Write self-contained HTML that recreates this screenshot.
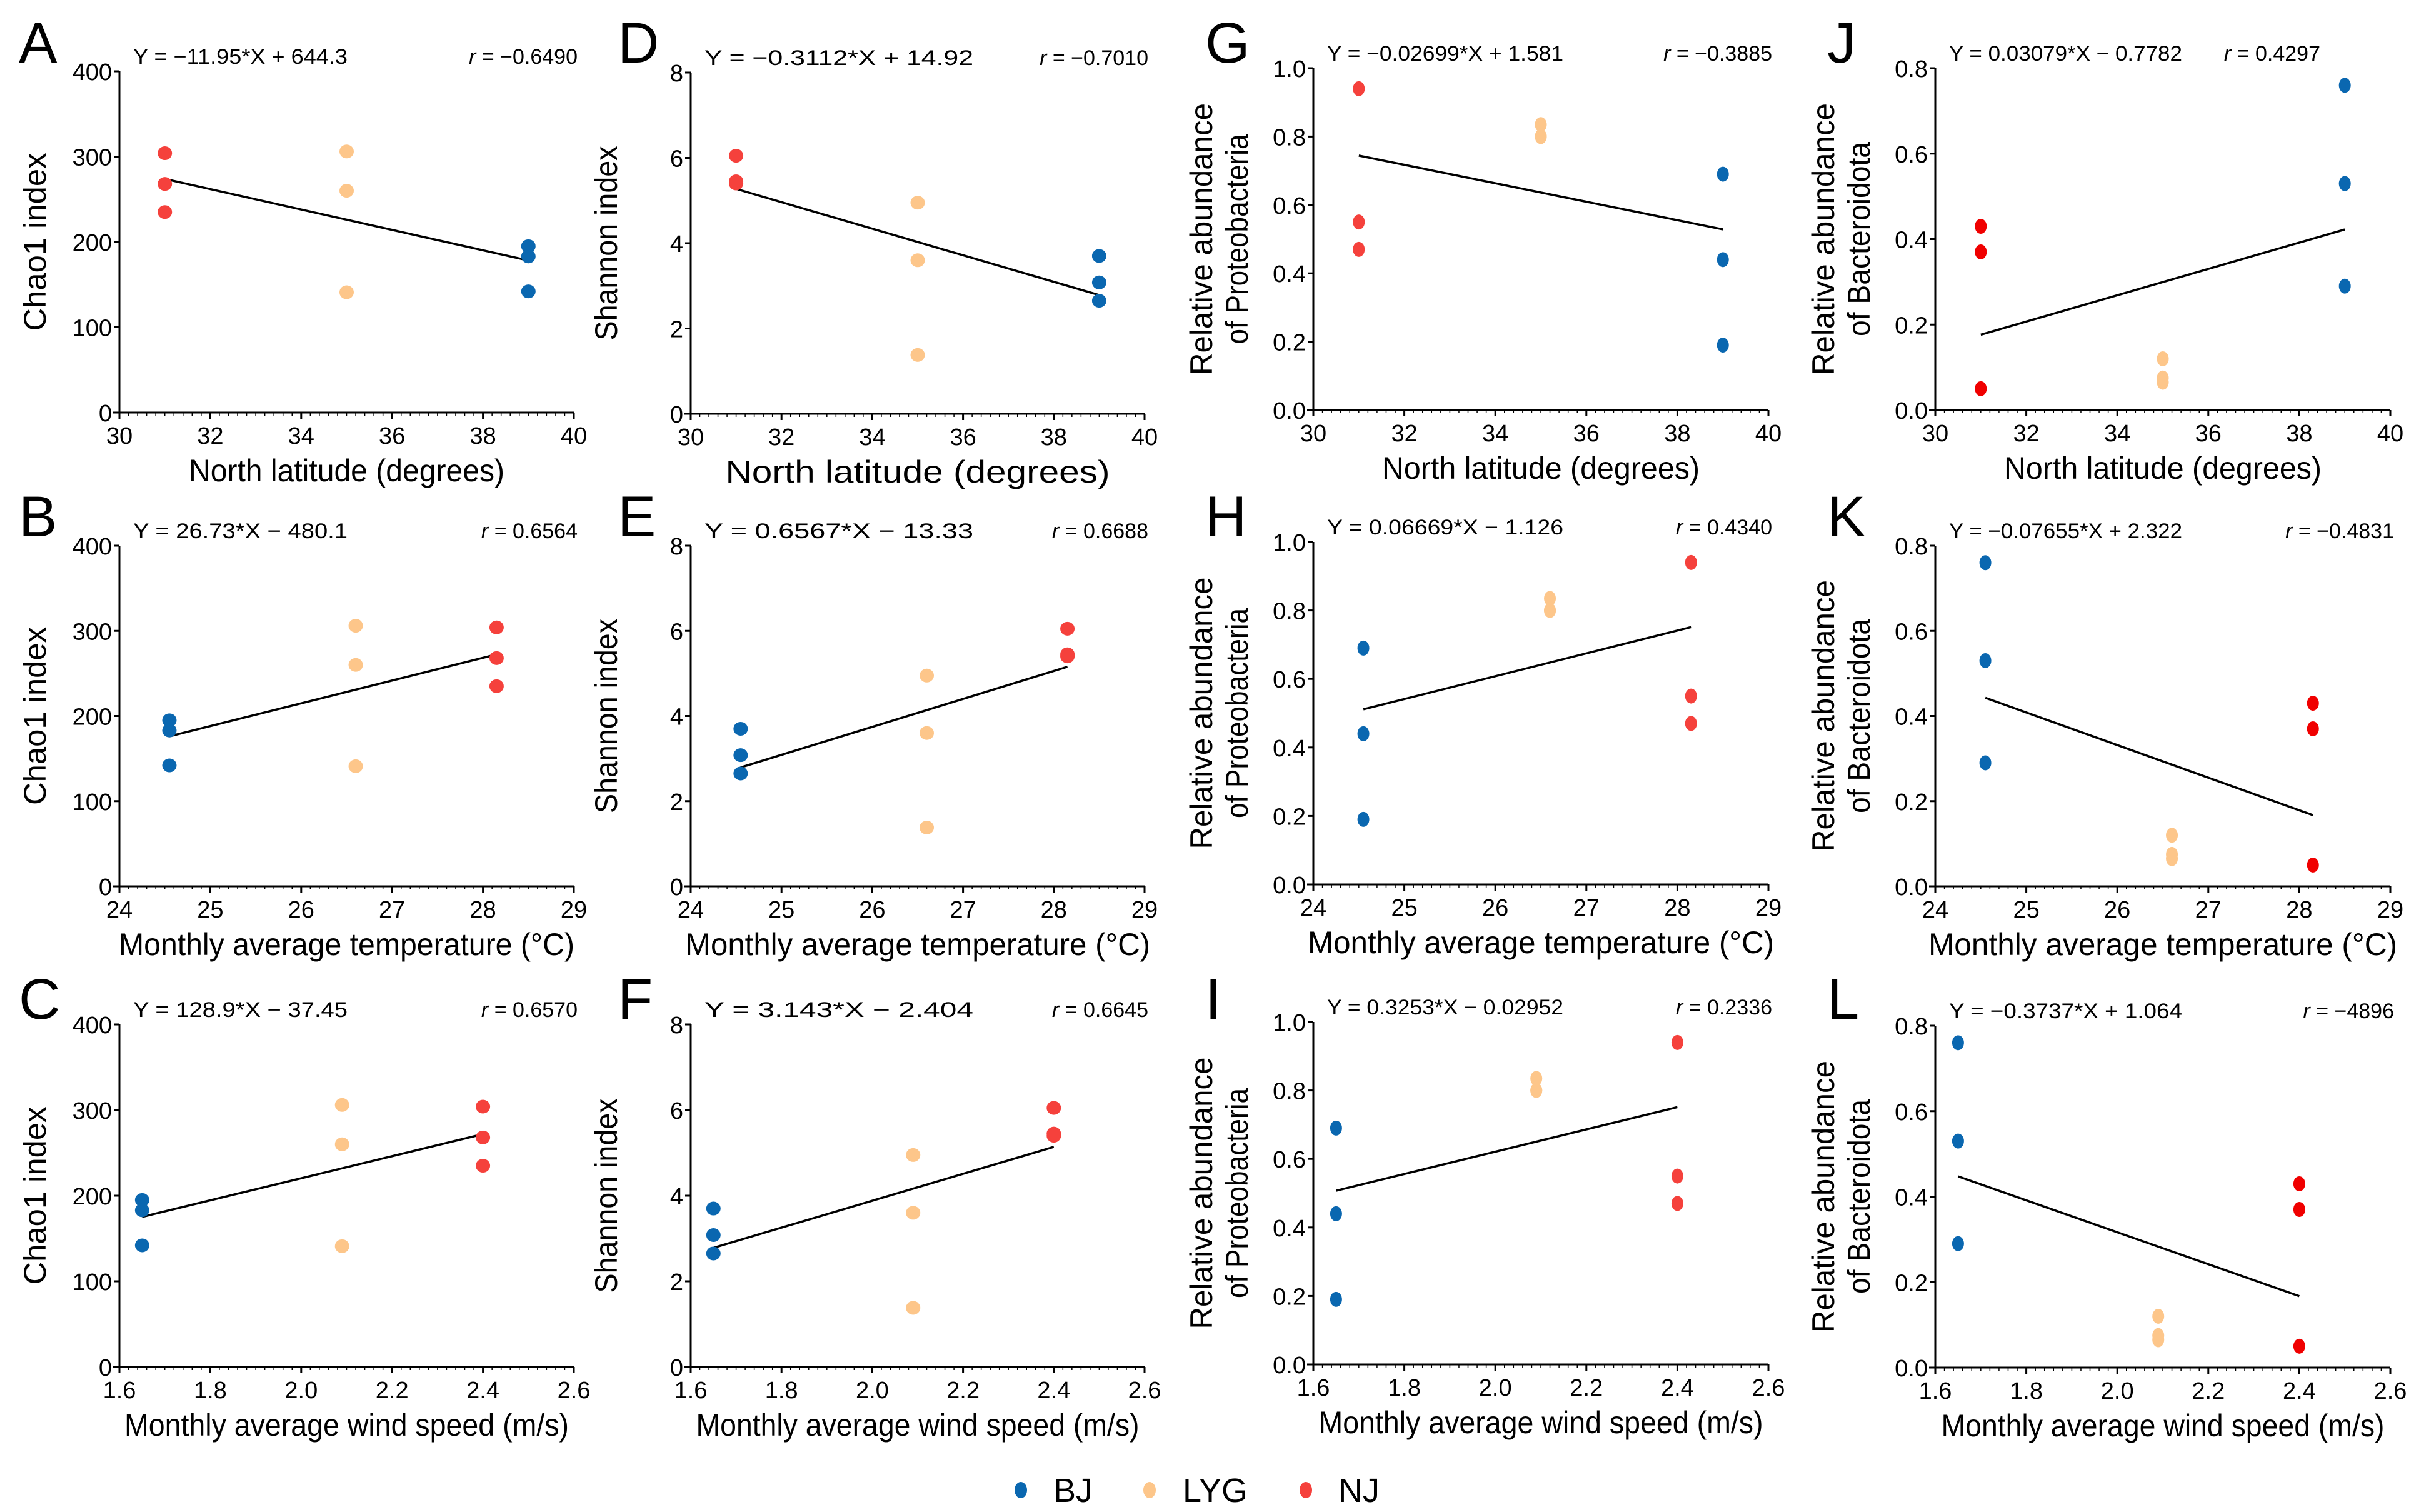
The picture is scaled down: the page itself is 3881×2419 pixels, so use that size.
<!DOCTYPE html>
<html><head><meta charset="utf-8"><style>
html,body{margin:0;padding:0;background:#fff}
svg{display:block}
text{font-family:"Liberation Sans",Arial,sans-serif;fill:#000}
</style></head><body>
<svg id="fig" width="3881" height="2419" viewBox="0 0 3881 2419" xmlns="http://www.w3.org/2000/svg"></svg>
<script>
// ---- data ----
const sites = ["BJ","LYG","NJ"];
const latitude = [39, 35, 31];
const temperature = [24.55, 26.6, 28.15];
const windSpeed = [1.65, 2.09, 2.4];
const chao1BJ = [195, 183, 142];
const chao1LYG = [306, 260, 141];
const chao1NJ = [304, 268, 235];
const shannonBJ = [3.7, 3.08, 2.65];
const shannonLYG = [4.95, 3.6, 1.38];
const shannonNJ = [6.05, 5.45, 5.4];
const proteoBJ = [0.69, 0.44, 0.19];
const proteoLYG = [0.835, 0.80, 0.80];
const proteoNJ = [0.94, 0.55, 0.47];
const bacteroBJ = [0.76, 0.53, 0.29];
const bacteroLYG = [0.12, 0.075, 0.065];
const bacteroNJ = [0.43, 0.37, 0.05];
const slopes = [-11.95, 26.73, 128.9, -0.3112, 0.6567, 3.143, -0.02699, 0.06669, 0.3253, 0.03079, -0.07655, -0.3737];
const intercepts = [644.3, -480.1, -37.45, 14.92, -13.33, -2.404, 1.581, -1.126, -0.02952, -0.7782, 2.322, 1.064];
const eqLabels = ["Y = −11.95*X + 644.3","Y = 26.73*X − 480.1","Y = 128.9*X − 37.45","Y = −0.3112*X + 14.92","Y = 0.6567*X − 13.33","Y = 3.143*X − 2.404","Y = −0.02699*X + 1.581","Y = 0.06669*X − 1.126","Y = 0.3253*X − 0.02952","Y = 0.03079*X − 0.7782","Y = −0.07655*X + 2.322","Y = −0.3737*X + 1.064"];
const rLabels = ["−0.6490","0.6564","0.6570","−0.7010","0.6688","0.6645","−0.3885","0.4340","0.2336","0.4297","−0.4831","−4896"];
const latTicks = [30,32,34,36,38,40];
const tempTicks = [24,25,26,27,28,29];
const windTicks = [1.6,1.8,2.0,2.2,2.4,2.6];
const chaoTicks = [0,100,200,300,400];
const shanTicks = [0,2,4,6,8];
const proTicks = [0,0.2,0.4,0.6,0.8,1.0];
const bacTicks = [0,0.2,0.4,0.6,0.8];

const colors = {BJ:"#0a67b0", LYG:"#fdc68a", NJ:"#f5413c"};
const NS="http://www.w3.org/2000/svg";
const svg=document.getElementById('fig');
function el(tag, attrs, parent){const e=document.createElementNS(NS,tag);for(const k in attrs)e.setAttribute(k,attrs[k]);(parent||svg).appendChild(e);return e;}

const colX=[[191,918],[1105,1831],[2101,2829],[3096,3824]];
const rowY=[[[114,660],[873,1418],[1639,2187]],[[116,662],[873,1418],[1639,2187]],[[109,656],[867,1415],[1635,2183]],[[109,656],[873,1418],[1641,2188]]];
const envs=[{v:latitude,t:latTicks,title:"North latitude (degrees)",dec:0},{v:temperature,t:tempTicks,title:"Monthly average temperature (°C)",dec:0},{v:windSpeed,t:windTicks,title:"Monthly average wind speed (m/s)",dec:1}];
const metrics=[
 {d:[chao1BJ,chao1LYG,chao1NJ],t:chaoTicks,dec:0,yt:["Chao1 index"],ylen:[285]},
 {d:[shannonBJ,shannonLYG,shannonNJ],t:shanTicks,dec:0,yt:["Shannon index"],ylen:[311]},
 {d:[proteoBJ,proteoLYG,proteoNJ],t:proTicks,dec:1,yt:["Relative abundance","of Proteobacteria"],ylen:[435,336]},
 {d:[bacteroBJ,bacteroLYG,bacteroNJ],t:bacTicks,dec:1,yt:["Relative abundance","of Bacteroidota"],ylen:[435,311]}];
const letters=["A","B","C","D","E","F","G","H","I","J","K","L"];
const xTitleLen=[[505,729,711],[615,744,709],[508,746,711],[508,750,709]];
const eqLen=[343,430,378,373];
const letterX=[30,988,1928,2923];

for(let c=0;c<4;c++){
 for(let r=0;r<3;r++){
  const idx=c*3+r;
  const g=el('g',{});
  
  
  const [x0,x1]=colX[c];const [y0,y1]=rowY[c][r];
  const env=envs[r], met=metrics[c];
  const xmin=env.t[0], xmax=env.t[env.t.length-1], ymin=met.t[0], ymax=met.t[met.t.length-1];
  const sx=v=>x0+(v-xmin)/(xmax-xmin)*(x1-x0);
  const sy=v=>y1-(v-ymin)/(ymax-ymin)*(y1-y0);
  // axes
  const ya=el('line',{x1:x0,y1:y0,x2:x0,y2:y1+10,stroke:"#000","stroke-width":3},g);
  
  const xa=el('line',{x1:x0-10,y1:y1,x2:x1,y2:y1,stroke:"#000","stroke-width":3},g);
  
  met.t.forEach(v=>{
    el('line',{x1:x0-9,y1:sy(v),x2:x0,y2:sy(v),stroke:"#000","stroke-width":3},g);
    const t=el('text',{x:x0-12,y:sy(v)+14,"font-size":38,"text-anchor":"end"},g);
    t.textContent=v.toFixed(met.dec);
    
  });
  env.t.forEach((v,i)=>{
    el('line',{x1:sx(v),y1:y1,x2:sx(v),y2:y1+10,stroke:"#000","stroke-width":3},g);
    if(i<env.t.length-1){for(let k=1;k<10;k++){const mx=sx(v)+k*(sx(env.t[1])-sx(env.t[0]))/10;el('line',{x1:mx,y1:y1,x2:mx,y2:y1+5,stroke:"#000","stroke-width":1.5},g);}}
    const t=el('text',{x:sx(v),y:y1+50,"font-size":38,"text-anchor":"middle"},g);
    t.textContent=v.toFixed(env.dec);
    
  });
  // titles
  const xt=el('text',{x:(x0+x1)/2,y:y1+110,"font-size":50,"text-anchor":"middle",textLength:xTitleLen[c][r],lengthAdjust:"spacingAndGlyphs"},g);
  xt.textContent=env.title;
  const yc=(y0+y1)/2;
  met.yt.forEach((s,k)=>{
    const n=met.yt.length; const tx=x0-(n===1?118:(k===0?152:95))-(c>=2?10:0);
    const t=el('text',{x:tx,y:yc,"font-size":50,"text-anchor":"middle",transform:`rotate(-90 ${tx} ${yc})`,textLength:met.ylen[k],lengthAdjust:"spacingAndGlyphs"},g);
    t.textContent=s;
  });
  // letter
  const L=el('text',{x:letterX[c],y:y0-(c>=2?14:14)+ (r===0?0:0),"font-size":92},g);
  L.setAttribute('y', r===0?100:(r===1?858:1630));
  L.textContent=letters[idx];
  // equation
  const eq=el('text',{x:x0+22,y:y0-12,"font-size":34,textLength:eqLen[c],lengthAdjust:"spacingAndGlyphs"},g);
  eq.textContent=eqLabels[idx];
  const rx=(idx===9)?3712:x1+6;
  const rt=el('text',{x:rx,y:y0-12,"font-size":34,"text-anchor":"end"},g);
  const ri=el('tspan',{"font-style":"italic"},rt);ri.textContent="r";
  const rv=el('tspan',{},rt);rv.textContent=" = "+rLabels[idx];
  
  // regression line
  const lxmin=Math.min(...env.v), lxmax=Math.max(...env.v);
  const ln=el('line',{x1:sx(lxmin),y1:sy(slopes[idx]*lxmin+intercepts[idx]),x2:sx(lxmax),y2:sy(slopes[idx]*lxmax+intercepts[idx]),stroke:"#000","stroke-width":3.5},g);
  
  // points
  sites.forEach((s,si)=>{
    met.d[si].forEach(v=>{
      const col=(c===3&&s==="NJ")?"#f00000":colors[s];
      const p=el('ellipse',{cx:sx(env.v[si]),cy:sy(v),rx:c>=2?9.5:11.5,ry:c>=2?12:11,fill:col},g);
      
    });
  });
 }
}
// legend
const legX=[1633,1839,2089], legTX=[1685,1892,2141];
sites.forEach((s,i)=>{
  const d=el('ellipse',{cx:legX[i],cy:2384,rx:10,ry:13,fill:colors[s]});
  
  const t=el('text',{x:legTX[i],y:2403,"font-size":54});t.textContent=s;
  
});
</script>
</body></html>
